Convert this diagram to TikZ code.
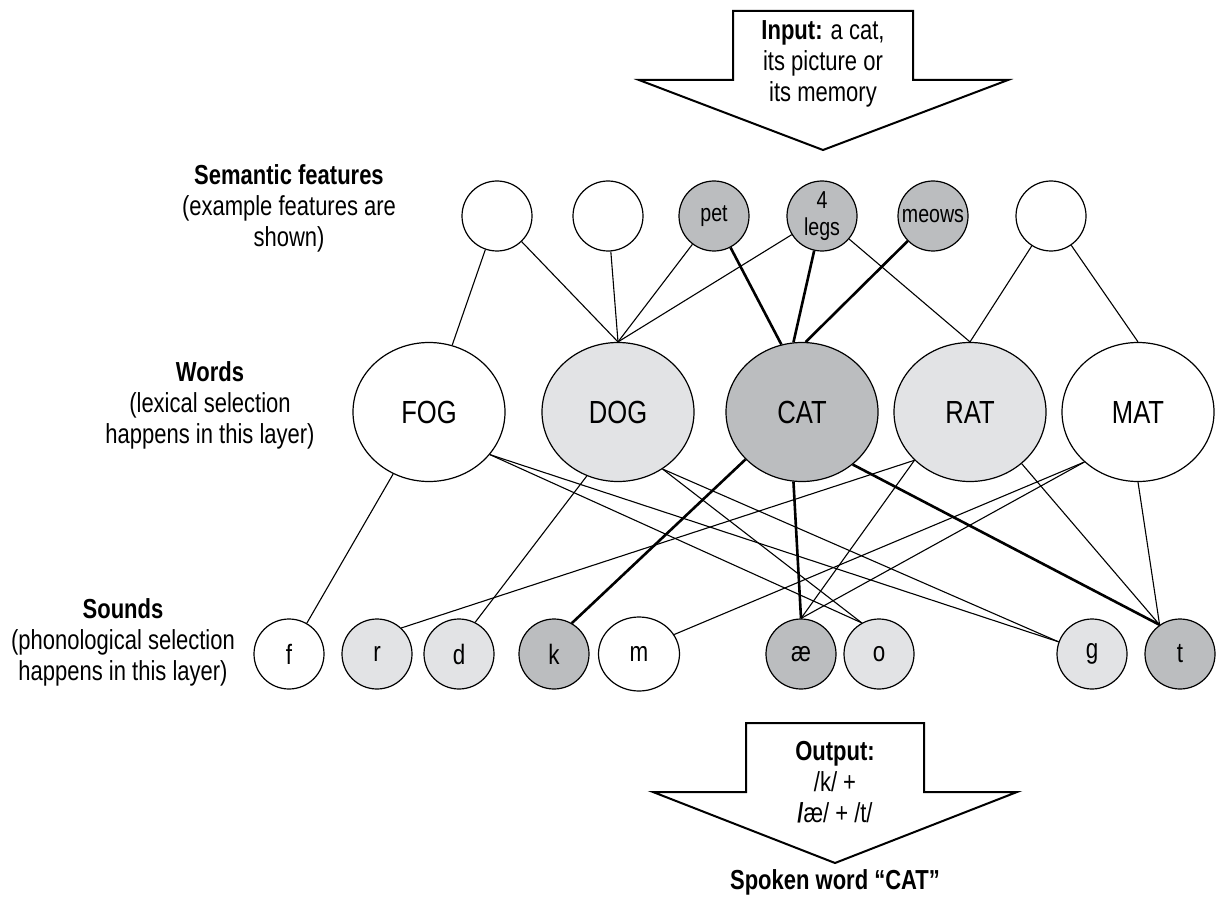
\documentclass[tikz,border=0pt]{standalone}
\usepackage{fontspec}
\setmainfont{Liberation Sans}[FakeStretch=0.8]
\usepackage{tikz}
\usetikzlibrary{shapes.geometric}
\definecolor{hot}{RGB}{187,189,191}
\definecolor{warm}{RGB}{226,227,229}
\tikzstyle{feat}=[shape=circle,draw,line width=1.2pt,minimum size=70pt,inner sep=0pt,align=center,font=\fontsize{24.5}{27}\selectfont]
\tikzstyle{word}=[shape=ellipse,draw,line width=1.2pt,minimum width=152pt,minimum height=139pt,inner sep=0pt,font=\fontsize{32}{34}\selectfont]
\tikzstyle{snd}=[shape=circle,draw,line width=1.2pt,minimum size=70pt,inner sep=0pt,font=\fontsize{28}{30}\selectfont]
\tikzstyle{link}=[line width=1.1pt]
\tikzstyle{strong}=[line width=2.6pt]
\tikzstyle{layer}=[align=center,inner sep=0pt,font=\fontsize{27.5}{31}\selectfont]
\tikzstyle{bigarrow}=[draw,line width=2pt,line join=miter,fill=white]

\begin{document}
\begin{tikzpicture}[x=1pt,y=-1pt]
    \useasboundingbox (0,0) rectangle (1217,901);

    % input / output arrows
    \draw[bigarrow] (733,11) -- (913,11) -- (913,80) -- (1008,80) -- (823,150)
        -- (639,80) -- (733,80) -- cycle;
    \node[layer] (input) at (823, 64) {\textbf{Input:} a cat,\\its picture or\\its memory};
    \draw[bigarrow] (746,723) -- (924,723) -- (924,792) -- (1017,792) -- (835,863)
        -- (653,792) -- (746,792) -- cycle;
    \node[layer] (output) at (835, 782) {\textbf{Output:}\\/k/ +\\\textbf{/}æ/ + /t/};
    \node[layer] (spoken) at (835, 882) {\textbf{Spoken word “CAT”}};

    % layer labels
    \node[layer] (semlabel) at (289, 208) {\textbf{Semantic features}\\(example features are\\shown)};
    \node[layer] (wordlabel) at (210, 405) {\textbf{Words}\\(lexical selection\\happens in this layer)};
    \node[layer] (sndlabel) at (123, 642) {\textbf{Sounds}\\(phonological selection\\happens in this layer)};

    % semantic features
    \node[feat] (s1) at (497, 216) {};
    \node[feat] (s2) at (608, 216) {};
    \node[feat,fill=hot] (pet) at (714, 216) {pet};
    \node[feat,fill=hot] (legs) at (822, 216) {4\\legs};
    \node[feat,fill=hot] (meows) at (933, 216) {meows};
    \node[feat] (s6) at (1051, 216) {};

    % words
    \node[word] (FOG) at (429, 412) {FOG}
        edge[link] (s1)
    ;
    \node[word,fill=warm] (DOG) at (618, 412) {DOG};
    \node[word,fill=hot] (CAT) at (802, 412) {CAT};
    \node[word,fill=warm] (RAT) at (970, 412) {RAT};
    \node[word] (MAT) at (1138, 412) {MAT};

    \path (DOG.north) edge[link] (s1) edge[link] (s2) edge[link] (pet) edge[link] (legs);
    \path (CAT.107) edge[strong] (pet);
    \path (CAT.97) edge[strong] (legs);
    \path (CAT.87) edge[strong] (meows);
    \path (RAT.north) edge[link] (legs) edge[link] (s6);
    \path (MAT.north) edge[link] (s6);

    % sounds
    \node[snd] (f) at (289, 654) {f}
        edge[link] (FOG)
    ;
    \node[snd,fill=warm] (r) at (377, 654) {r};
    \node[snd,fill=warm] (d) at (459, 654) {d};
    \node[snd,fill=hot] (k) at (554, 654) {k};
    \node[snd,shape=ellipse,minimum width=81pt,minimum height=74pt] (m) at (639, 654) {m};
    \node[snd,fill=hot] (ae) at (801, 654) {æ};
    \node[snd,fill=warm] (o) at (879, 654) {o};
    \node[snd,fill=warm] (g) at (1092, 654) {g};
    \node[snd,fill=hot] (t) at (1180, 654) {t};

    \path (FOG.-35) edge[link] (o.119) edge[link] (g.160);
    \path (DOG.244) edge[link] (d.63);
    \path (DOG.-52) edge[link] (o.119) edge[link] (g.160);
    \path (CAT.220) edge[strong] (k.60);
    \path (CAT.263) edge[strong] (ae.north);
    \path (CAT.-46) edge[strong] (t.125);
    \path (RAT.221) edge[link] (r.47) edge[link] (ae.north);
    \path (RAT.-45) edge[link] (t.125);
    \path (MAT.223) edge[link] (m.29) edge[link] (ae.north);
    \path (MAT.south) edge[link] (t.125);
\end{tikzpicture}
\end{document}
